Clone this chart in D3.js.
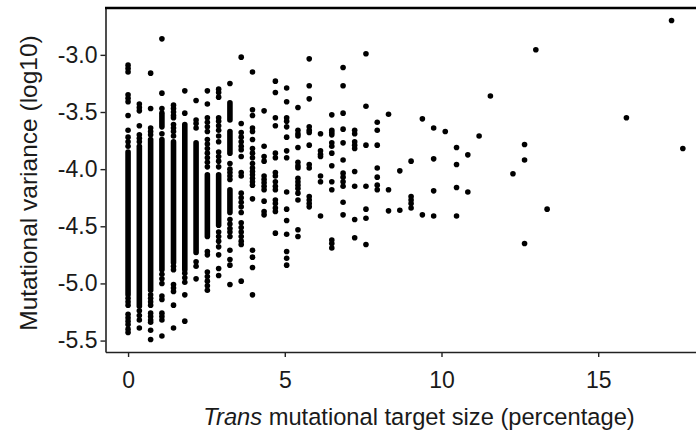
<!DOCTYPE html>
<html>
<head>
<meta charset="utf-8">
<script src="https://cdn.jsdelivr.net/npm/d3@7"></script>
<style>
body{margin:0;background:#fff}
text{font-family:"Liberation Sans",Arial,sans-serif;fill:#1a1a1a}
</style>
</head>
<body>
<svg id="chart" width="696" height="435"></svg>
<script>
// x of each column of points (trans target size, %)
let targetSize=[0,0.36,0.72,1.08,1.45,1.81,2.17,2.53,2.89,3.25,3.61,3.97,4.34,4.70,5.06,5.42,5.78,6.14,6.50,6.86,7.23,7.59,7.95,8.31,8.67,9.03,9.39,9.75,10.12,10.48,10.84,11.20,11.56,12.28,12.65,13.01,13.37,15.90,17.34,17.70]
// mutational variance (log10) of the separate points in each column
let variance=[
  [-3.09,-3.12,-3.15,-3.35,-3.38,-3.41,-3.53,-3.66,-3.72,-3.76,-3.80,-5.13,-5.16,-5.19,-5.27,-5.30,-5.33,-5.36,-5.40,-5.43],
  [-3.43,-3.46,-3.49,-3.62,-3.70,-3.73,-3.76,-5.24,-5.28,-5.32,-5.39],
  [-3.16,-3.47,-3.64,-3.67,-3.70,-5.10,-5.13,-5.16,-5.19,-5.26,-5.29,-5.32,-5.34,-5.41,-5.49],
  [-2.86,-3.335,-3.47,-3.69,-4.92,-4.96,-5.00,-5.11,-5.14,-5.26,-5.29,-5.32,-5.46],
  [-3.44,-3.47,-3.50,-3.53,-3.55,-3.61,-3.64,-3.67,-3.71,-4.85,-4.88,-5.01,-5.04,-5.07,-5.19,-5.39],
  [-3.315,-3.51,-4.91,-4.95,-4.99,-5.10,-5.33],
  [-3.40,-3.57,-3.60,-3.64,-4.81,-4.85,-4.96],
  [-3.315,-3.43,-3.55,-3.59,-3.63,-3.67,-3.74,-3.78,-3.82,-3.86,-3.90,-3.94,-3.98,-4.72,-4.75,-4.90,-4.94,-4.98,-5.02,-5.06],
  [-3.30,-3.33,-3.37,-3.55,-3.58,-3.62,-3.66,-3.71,-3.76,-3.85,-3.89,-3.93,-3.98,-4.55,-4.59,-4.63,-4.68,-4.75,-4.87,-4.93],
  [-3.25,-3.95,-4.00,-4.03,-4.06,-4.09,-4.44,-4.48,-4.52,-4.55,-4.59,-4.71,-4.79,-4.84,-5.01],
  [-3.02,-3.60,-3.68,-3.72,-3.76,-3.80,-3.83,-3.89,-4.03,-4.06,-4.21,-4.25,-4.29,-4.33,-4.38,-4.47,-4.51,-4.55,-4.59,-4.63,-4.66,-4.98],
  [-3.15,-3.48,-3.53,-3.64,-3.67,-3.74,-3.82,-3.86,-3.90,-3.95,-3.99,-4.02,-4.05,-4.08,-4.11,-4.14,-4.26,-4.71,-4.77,-4.86,-5.10],
  [-3.49,-3.80,-3.89,-3.93,-4.06,-4.09,-4.12,-4.15,-4.18,-4.28,-4.37,-4.40],
  [-3.23,-3.33,-3.55,-3.62,-3.86,-3.90,-4.03,-4.06,-4.11,-4.15,-4.18,-4.27,-4.30,-4.34,-4.37,-4.56],
  [-3.29,-3.41,-3.55,-3.58,-3.63,-3.72,-3.84,-3.90,-4.20,-4.35,-4.45,-4.57,-4.72,-4.78,-4.84],
  [-3.46,-3.66,-3.69,-3.71,-3.81,-3.94,-3.97,-3.99,-4.08,-4.11,-4.14,-4.17,-4.21,-4.27,-4.53,-4.59],
  [-3.035,-3.27,-3.385,-3.63,-3.66,-3.68,-3.79,-3.96,-3.99,-4.24,-4.27,-4.30,-4.33],
  [-3.69,-3.84,-3.87,-3.89,-4.06,-4.11,-4.41],
  [-3.525,-3.66,-3.68,-3.70,-3.77,-3.80,-3.86,-3.97,-4.11,-4.18,-4.62,-4.65,-4.69],
  [-3.11,-3.27,-3.51,-3.65,-3.77,-3.92,-4.035,-4.07,-4.11,-4.15,-4.29,-4.40],
  [-3.66,-3.69,-3.76,-3.79,-3.82,-4.02,-4.15,-4.44,-4.60],
  [-2.99,-3.45,-3.79,-4.15,-4.35,-4.43,-4.66],
  [-3.59,-3.66,-3.79,-3.99,-4.07,-4.14,-4.18],
  [-3.52,-4.18,-4.365],
  [-4.015,-4.36],
  [-3.93,-4.24,-4.27,-4.30,-4.34],
  [-3.56,-4.40],
  [-3.64,-3.91,-4.19,-4.41],
  [-3.67],
  [-3.81,-3.96,-4.16,-4.41],
  [-3.875,-4.20],
  [-3.71],
  [-3.36],
  [-4.04],
  [-3.785,-3.92,-4.65],
  [-2.955],
  [-4.35],
  [-3.55],
  [-2.70],
  [-3.82]
]
// stretches where the points overlap into a solid bar: [x, top, bottom]
let denseRuns=[
  [0,-3.85,-5.10],
  [0.36,-3.80,-5.20],
  [0.72,-3.74,-5.06],
  [1.08,-3.51,-3.63],[1.08,-3.74,-4.88],
  [1.45,-3.76,-4.82],
  [1.81,-3.61,-4.88],
  [2.17,-3.77,-4.73],
  [2.53,-4.05,-4.59],
  [2.89,-4.05,-4.49],
  [3.25,-3.42,-3.57],[3.25,-3.67,-3.86],[3.25,-4.18,-4.38]
]
let xTicks=[0,5,10,15]
let yTicks=[-3.0,-3.5,-4.0,-4.5,-5.0,-5.5]

let svg=d3.select("#chart")
let x=d3.scaleLinear().domain([-0.72,18.12]).range([105.5,696])
let y=d3.scaleLinear().domain([-5.6,-2.59]).range([352,8])
let r=2.8

let points=[]
targetSize.forEach((tx,i)=>{
  variance[i].forEach(v=>points.push([tx,v]))
})

svg.append('g')
   .selectAll('line')
   .data(denseRuns)
   .enter()
   .append('line')
   .attr('x1',d=>x(d[0]))
   .attr('x2',d=>x(d[0]))
   .attr('y1',d=>y(d[1]))
   .attr('y2',d=>y(d[2]))
   .attr('stroke','#000')
   .attr('stroke-width',2*r)
   .attr('stroke-linecap','round')

svg.append('g')
   .selectAll('circle')
   .data(points)
   .enter()
   .append('circle')
   .attr('cx',d=>x(d[0]))
   .attr('cy',d=>y(d[1]))
   .attr('r',r)
   .attr('fill','#000')

// axes
svg.append('g')
   .attr('transform','translate(0,352)')
   .call(d3.axisBottom(x).tickValues(xTicks).tickSize(5).tickSizeOuter(0).tickPadding(15))
svg.append('g')
   .attr('transform','translate(105.5,0)')
   .call(d3.axisLeft(y).tickValues(yTicks).tickFormat(d=>d.toFixed(1)).tickSize(5).tickSizeOuter(0).tickPadding(3))
svg.selectAll('.domain').attr('stroke','#222').attr('stroke-width',1.6)
svg.selectAll('.tick line').attr('stroke','#222').attr('stroke-width',1.4)
svg.selectAll('.tick text').style('font-size','23px').attr('fill','#1a1a1a')

// heavy top border
svg.append('line')
   .attr('x1',105).attr('x2',696)
   .attr('y1',8).attr('y2',8)
   .attr('stroke','#000').attr('stroke-width',2.6)

// titles
let xt=svg.append('text')
   .attr('x',419).attr('y',425)
   .attr('text-anchor','middle')
   .style('font-size','23.7px')
xt.append('tspan').style('font-style','italic').text('Trans')
xt.append('tspan').text(' mutational target size (percentage)')

svg.append('text')
   .attr('transform','translate(37,183) rotate(-90)')
   .attr('text-anchor','middle')
   .style('font-size','24.5px')
   .text('Mutational variance (log10)')
</script>
</body>
</html>
